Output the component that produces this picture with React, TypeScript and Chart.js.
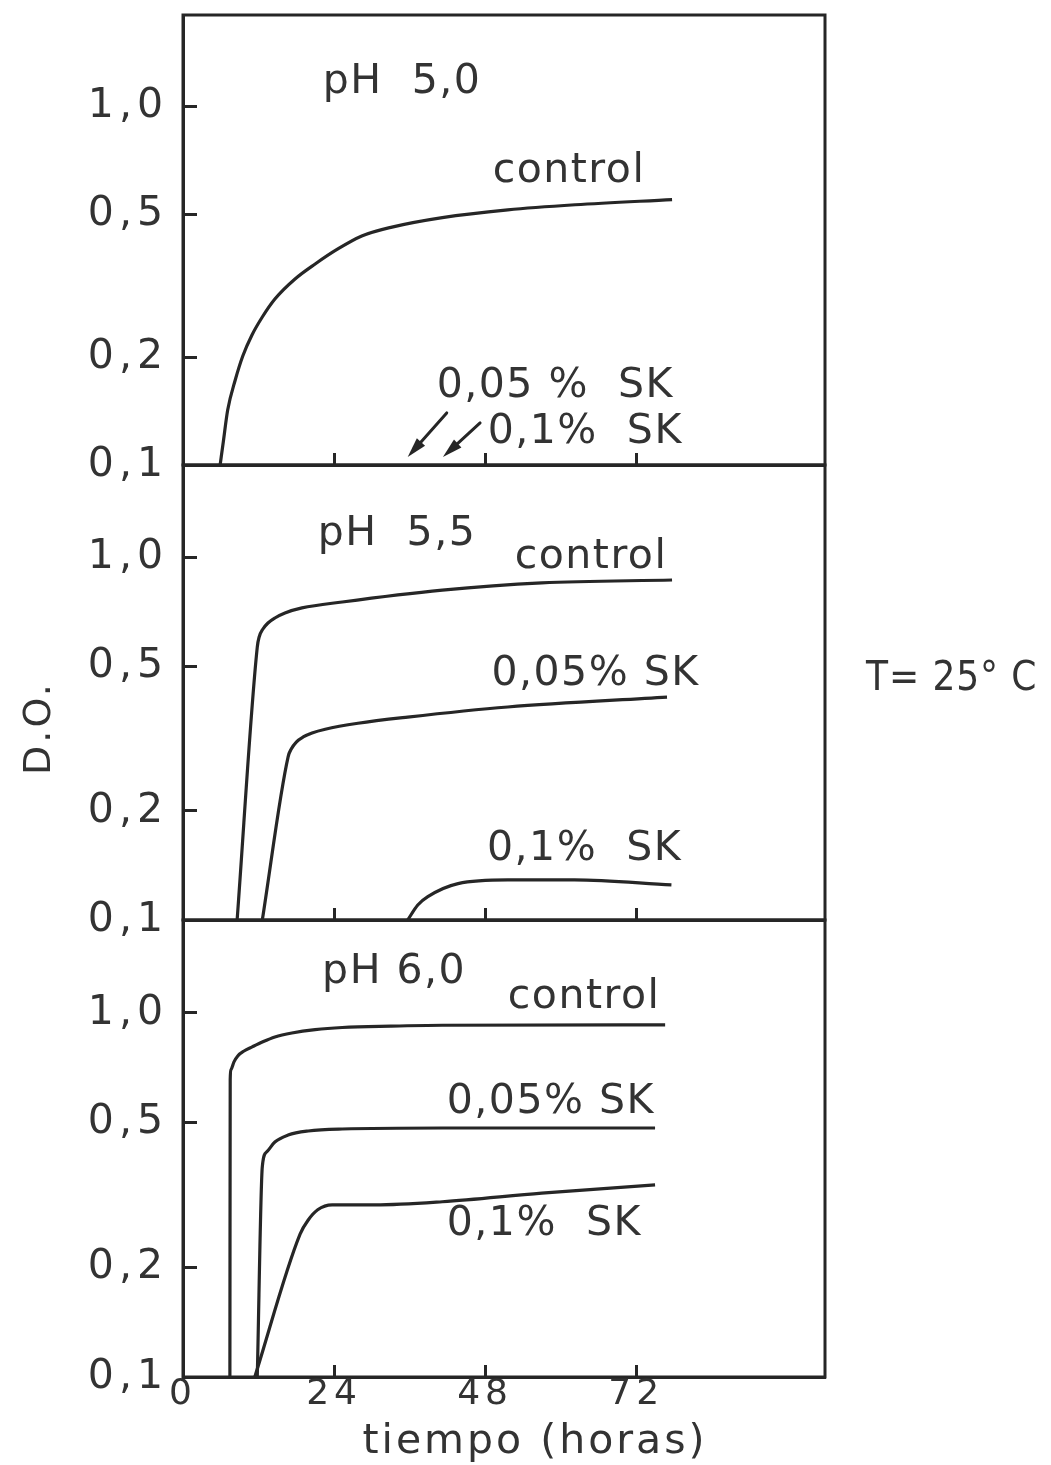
import React, { useEffect, useRef } from 'react';
import { Chart, registerables } from 'chart.js';

Chart.register(...registerables);

// ---------------- axis values ----------------
const xTickHours = [0, 24, 48, 72];
const yTickValues = [0.1, 0.2, 0.5, 1.0];
const xMin = 0;
const xMax = 102;
const yMin = 0.1;
const yMax = 1.8;

// ---------------- pH 5,0 ----------------
const ph50ControlHours = [5.9, 6.4, 7.1, 8.3, 9.5, 10.96, 12.6, 14.6, 17.8, 21.0, 24.6, 28.4, 33.2, 41.2, 51.6, 62.3, 77.7];
const ph50ControlDO = [0.1, 0.1159, 0.1423, 0.1726, 0.2014, 0.2305, 0.2587, 0.2904, 0.3303, 0.3637, 0.4005, 0.4353, 0.461, 0.49, 0.515, 0.532, 0.55];

// ---------------- pH 5,5 ----------------
const ph55ControlHours = [8.6, 11.8, 12.1, 12.7, 13.5, 14.6, 16.2, 18.9, 25.3, 41.2, 57.0, 77.7];
const ph55ControlDO = [0.1, 0.566, 0.6036, 0.635, 0.6597, 0.681, 0.703, 0.726, 0.754, 0.813, 0.851, 0.867];
const ph55Sk005Hours = [12.6, 16.7, 17.2, 18.0, 19.1, 20.5, 22.6, 27.8, 35.7, 51.6, 76.9];
const ph55Sk005DO = [0.1, 0.282, 0.2963, 0.3097, 0.3198, 0.328, 0.336, 0.349, 0.363, 0.387, 0.412];
const ph55Sk01Hours = [35.7, 37.3, 38.9, 43.7, 51.6, 62.2, 77.6];
const ph55Sk01DO = [0.1, 0.11, 0.116, 0.126, 0.129, 0.129, 0.125];

// ---------------- pH 6,0 ----------------
const ph60ControlHours = [7.45, 7.5, 7.6, 8.1, 8.7, 9.7, 11.0, 12.6, 14.6, 17.3, 21.0, 25.3, 33.0, 41.2, 76.6];
const ph60ControlDO = [0.1, 0.655, 0.697, 0.7336, 0.762, 0.786, 0.807, 0.832, 0.859, 0.881, 0.9, 0.912, 0.92, 0.925, 0.927];
const ph60Sk005Hours = [11.8, 12.6, 13.3, 14.6, 16.7, 19.9, 25.3, 41.2, 75.0];
const ph60Sk005DO = [0.1, 0.378, 0.415, 0.442, 0.462, 0.474, 0.48, 0.483, 0.483];
const ph60Sk01Hours = [11.4, 18.6, 19.9, 21.4, 23.7, 30.5, 41.2, 57.0, 75.0];
const ph60Sk01DO = [0.1, 0.247, 0.27, 0.288, 0.297, 0.297, 0.303, 0.32, 0.337];

// ---------------- text labels (data coordinates) ----------------
const ph50Labels = [
  { text: 'pH  5,0', hour: 22.2, od: 1.09 },
  { text: 'control', hour: 49.2, od: 0.615 },
  { text: '0,05 %  SK', hour: 40.3, od: 0.155 },
  { text: '0,1%  SK', hour: 48.4, od: 0.115 },
];
const ph50Arrows = [
  { fromHour: 41.9, fromOd: 0.1397, toHour: 35.7, toOd: 0.1053 },
  { fromHour: 47.2, fromOd: 0.131, toHour: 41.3, toOd: 0.1053 },
];
const ph55Labels = [
  { text: 'pH  5,5', hour: 21.4, od: 1.082 },
  { text: 'control', hour: 52.7, od: 0.935 },
  { text: '0,05% SK', hour: 49.0, od: 0.445 },
  { text: '0,1%  SK', hour: 48.3, od: 0.1464 },
];
const ph60Labels = [
  { text: 'pH 6,0', hour: 22.1, od: 1.209 },
  { text: 'control', hour: 51.6, od: 1.032 },
  { text: '0,05% SK', hour: 41.9, od: 0.531 },
  { text: '0,1%  SK', hour: 41.9, od: 0.2455 },
];

const yAxisTitle = 'D.O.';
const xAxisTitle = 'tiempo (horas)';
const sideNote = 'T= 25° C';

// ---------------- styling ----------------
const FONT = '"DejaVu Sans", "Liberation Sans", sans-serif';
const INK = '#262626';
const TEXT = '#333333';
const PAGE_W = 1051;
const PLOT_LEFT = 183;
const PLOT_RIGHT_PAD = 226;

type Series = { hours: number[]; od: number[] };
type Label = { text: string; hour: number; od: number };
type Arrow = { fromHour: number; fromOd: number; toHour: number; toOd: number };
type Extra = {
  text: string;
  x: number;
  y: number;
  rotate?: boolean;
  align?: CanvasTextAlign;
  size: number;
  spacing: number;
  scaleX?: number;
};

type Panel = {
  top: number;
  height: number;
  padTop: number;
  xAxisH: number;
  showXLabels: boolean;
  series: Series[];
  labels: Label[];
  arrows: Arrow[];
  extras: Extra[];
};

const panels: Panel[] = [
  {
    top: 0,
    height: 500,
    padTop: 15,
    xAxisH: 35,
    showXLabels: false,
    series: [{ hours: ph50ControlHours, od: ph50ControlDO }],
    labels: ph50Labels,
    arrows: ph50Arrows,
    extras: [],
  },
  {
    top: 440,
    height: 520,
    padTop: 25,
    xAxisH: 40,
    showXLabels: false,
    series: [
      { hours: ph55ControlHours, od: ph55ControlDO },
      { hours: ph55Sk005Hours, od: ph55Sk005DO },
      { hours: ph55Sk01Hours, od: ph55Sk01DO },
    ],
    labels: ph55Labels,
    arrows: [],
    extras: [
      { text: yAxisTitle, x: 40, y: 728 - 440, rotate: true, align: 'center', size: 38, spacing: 3 },
      { text: sideNote, x: 866, y: 690 - 440, align: 'left', size: 41, spacing: 1, scaleX: 0.88 },
    ],
  },
  {
    top: 895,
    height: 570,
    padTop: 25,
    xAxisH: 88,
    showXLabels: true,
    series: [
      { hours: ph60ControlHours, od: ph60ControlDO },
      { hours: ph60Sk005Hours, od: ph60Sk005DO },
      { hours: ph60Sk01Hours, od: ph60Sk01DO },
    ],
    labels: ph60Labels,
    arrows: [],
    extras: [{ text: xAxisTitle, x: 535, y: 1453 - 895, align: 'center', size: 41, spacing: 3 }],
  },
];

const spacingPlugin = {
  id: 'spacing',
  beforeDraw(chart: any) {
    chart.ctx.letterSpacing = '5px';
  },
};

const decorPlugin = {
  id: 'decor',
  afterDraw(chart: any) {
    const panel: Panel = chart.options.plugins.decor.panel;
    const ctx: CanvasRenderingContext2D = chart.ctx;
    const xs = chart.scales.x;
    const ys = chart.scales.y;
    const ca = chart.chartArea;
    ctx.save();
    // frame
    ctx.strokeStyle = INK;
    ctx.lineWidth = 3;
    ctx.strokeRect(ca.left, ca.top, ca.right - ca.left, ca.bottom - ca.top);

    // labels
    ctx.fillStyle = TEXT;
    ctx.font = `41px ${FONT}`;
    (ctx as any).letterSpacing = '1.5px';
    ctx.textAlign = 'left';
    ctx.textBaseline = 'alphabetic';
    for (const l of panel.labels) {
      ctx.fillText(l.text, xs.getPixelForValue(l.hour), ys.getPixelForValue(l.od));
    }

    // arrows
    ctx.strokeStyle = INK;
    ctx.fillStyle = INK;
    ctx.lineWidth = 3;
    ctx.lineCap = 'round';
    for (const a of panel.arrows) {
      const x1 = xs.getPixelForValue(a.fromHour);
      const y1 = ys.getPixelForValue(a.fromOd);
      const x2 = xs.getPixelForValue(a.toHour);
      const y2 = ys.getPixelForValue(a.toOd);
      const ang = Math.atan2(y2 - y1, x2 - x1);
      const hl = 20;
      const hw = 5.5;
      ctx.beginPath();
      ctx.moveTo(x1, y1);
      ctx.lineTo(x2 - Math.cos(ang) * hl * 0.6, y2 - Math.sin(ang) * hl * 0.6);
      ctx.stroke();
      ctx.beginPath();
      ctx.moveTo(x2, y2);
      ctx.lineTo(x2 - Math.cos(ang) * hl - Math.sin(ang) * hw, y2 - Math.sin(ang) * hl + Math.cos(ang) * hw);
      ctx.lineTo(x2 - Math.cos(ang) * hl + Math.sin(ang) * hw, y2 - Math.sin(ang) * hl - Math.cos(ang) * hw);
      ctx.closePath();
      ctx.fill();
    }

    // extra page texts
    ctx.fillStyle = TEXT;
    for (const e of panel.extras) {
      ctx.save();
      ctx.font = `${e.size}px ${FONT}`;
      (ctx as any).letterSpacing = `${e.spacing}px`;
      ctx.textAlign = e.align || 'left';
      ctx.translate(e.x, e.y);
      if (e.rotate) {
        ctx.rotate(-Math.PI / 2);
        ctx.textBaseline = 'middle';
        ctx.fillText(e.text, 0, 0);
      } else {
        ctx.scale(e.scaleX || 1, 1);
        ctx.textBaseline = 'alphabetic';
        ctx.fillText(e.text, 0, 0);
      }
      ctx.restore();
    }
    ctx.restore();
  },
};

function PanelChart({ panel }: { panel: Panel }) {
  const ref = useRef<HTMLCanvasElement | null>(null);
  useEffect(() => {
    const canvas = ref.current;
    if (!canvas) return;
    const datasets = panel.series.map((s) => ({
      data: s.hours.map((h, i) => ({ x: h, y: s.od[i] })),
      borderColor: INK,
      borderWidth: 3.2,
      pointRadius: 0,
      fill: false,
      cubicInterpolationMode: 'monotone' as const,
    }));
    const chart = new Chart(canvas, {
      type: 'line',
      data: { datasets },
      plugins: [spacingPlugin, decorPlugin],
      options: {
        animation: false,
        responsive: false,
        maintainAspectRatio: false,
        devicePixelRatio: 1,
        layout: { padding: { top: panel.padTop, left: 0, right: PLOT_RIGHT_PAD, bottom: 0 } },
        plugins: {
          legend: { display: false },
          tooltip: { enabled: false },
          decor: { panel },
        } as any,
        scales: {
          x: {
            type: 'linear',
            position: 'bottom',
            min: xMin,
            max: xMax,
            afterBuildTicks: (s: any) => {
              s.ticks = xTickHours.map((v) => ({ value: v }));
            },
            afterFit: (s: any) => {
              s.height = panel.xAxisH;
              s.paddingLeft = 0;
              s.paddingRight = 0;
              s.paddingTop = 0;
              s.paddingBottom = 0;
            },
            grid: {
              display: true,
              drawOnChartArea: false,
              drawTicks: true,
              tickLength: -12,
              tickWidth: 3,
              tickColor: INK,
            },
            border: { display: true, color: INK, width: 3 },
            ticks: {
              display: panel.showXLabels,
              autoSkip: false,
              maxRotation: 0,
              padding: 8,
              color: TEXT,
              font: { family: FONT, size: 36 },
              callback: (v: any) => String(v),
            },
          },
          y: {
            type: 'logarithmic',
            position: 'left',
            min: yMin,
            max: yMax,
            afterBuildTicks: (s: any) => {
              s.ticks = yTickValues.map((v) => ({ value: v }));
            },
            afterFit: (s: any) => {
              s.width = PLOT_LEFT;
              s.paddingTop = 0;
              s.paddingBottom = 0;
              s.paddingLeft = 0;
              s.paddingRight = 0;
            },
            grid: {
              display: true,
              drawOnChartArea: false,
              drawTicks: true,
              tickLength: -14,
              tickWidth: 3,
              tickColor: INK,
            },
            border: { display: true, color: INK, width: 3 },
            ticks: {
              autoSkip: false,
              padding: 29,
              color: TEXT,
              font: { family: FONT, size: 41 },
              callback: (v: any) => Number(v).toFixed(1).replace('.', ','),
            },
          },
        },
      } as any,
    });
    return () => chart.destroy();
  }, [panel]);
  return (
    <canvas
      ref={ref}
      width={PAGE_W}
      height={panel.height}
      style={{ position: 'absolute', left: 0, top: panel.top, width: PAGE_W, height: panel.height, display: 'block' }}
    />
  );
}

export default function App() {
  return (
    <div
      style={{
        position: 'absolute',
        left: 0,
        top: 0,
        width: PAGE_W,
        height: 1465,
        background: '#ffffff',
        overflow: 'hidden',
      }}
    >
      {panels.map((p, i) => (
        <PanelChart key={i} panel={p} />
      ))}
    </div>
  );
}
